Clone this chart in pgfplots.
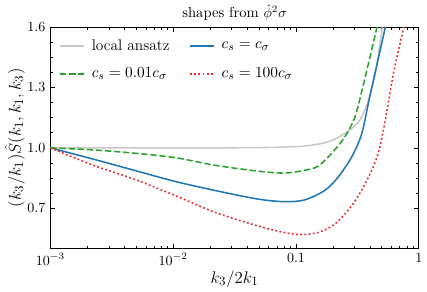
\documentclass[border=0pt]{standalone}
\usepackage{pgfplots}
\pgfplotsset{compat=1.18}
\definecolor{mblue}{HTML}{1F77B4}
\definecolor{mgreen}{HTML}{2CA02C}
\definecolor{mred}{RGB}{238,40,40}
\definecolor{mgray}{RGB}{200,200,200}
\begin{document}
\begin{tikzpicture}
\begin{axis}[
  scale only axis,
  width=262.6pt, height=158pt,
  xmode=log,
  xmin=0.001, xmax=1,
  ymin=0.5, ymax=1.6,
  xtick={0.001,0.01,0.1,1},
  xticklabels={$10^{-3}$,$10^{-2}$,$0.1$,$1$},
  ytick={0.7,1.0,1.3,1.6},
  yticklabels={$0.7$,$1.0$,$1.3$,$1.6$},
  minor y tick num=3,
  tick align=inside,
  xtick pos=both, ytick pos=both,
  major tick length=3.5pt,
  minor tick length=2pt,
  every tick/.style={black, line width=0.5pt},
  axis line style={line width=0.6pt},
  xlabel={\fontsize{13}{15}\selectfont $k_3/2k_1$},
  ylabel={\fontsize{13}{15}\selectfont $(k_3/k_1)\hat{S}(k_1,k_1,k_3)$},
  xlabel style={yshift=3pt},
  ylabel style={yshift=-5pt},
  title={\fontsize{10.4}{12}\selectfont shapes from $\dot{\phi}^2\sigma$},
  title style={yshift=-5pt},
  legend columns=2,
  legend cell align=left,
  legend style={at={(0.012,0.97)}, anchor=north west, draw=none, fill=none,
    /tikz/every odd column/.append style={column sep=3pt},
    /tikz/every even column/.append style={column sep=12pt},
    row sep=7pt, font=\fontsize{11}{13}\selectfont},
]
\addplot[mgray, line width=1.1pt, smooth] coordinates {
(0.001,1.0) (0.003,1.0) (0.01,1.0) (0.03,1.0005) (0.06,1.002) (0.0801,1.004)
(0.1172,1.009) (0.1712,1.025) (0.2203,1.0515) (0.2842,1.0965) (0.3327,1.14)
(0.3776,1.2135) (0.44,1.36) (0.505,1.6)
};
\addlegendentry{local ansatz}
\addplot[mblue, line width=1.1pt, smooth] coordinates {
(0.001,1.0) (0.002207,0.945) (0.00486,0.888) (0.0103,0.834) (0.02193,0.7885)
(0.04829,0.7465) (0.08,0.733) (0.1172,0.7415) (0.1712,0.7885) (0.2203,0.855)
(0.2842,0.955) (0.3436,1.0715) (0.4018,1.2635) (0.5346,1.6)
};
\addlegendentry{$c_s = c_\sigma$}
\addplot[mgreen, line width=1.1pt, dash pattern=on 4.5pt off 2pt, smooth] coordinates {
(0.001,1.0) (0.002207,0.99) (0.00486,0.9735) (0.0105,0.951) (0.02193,0.9135)
(0.04829,0.885) (0.0801,0.875) (0.1172,0.8885) (0.1508,0.9085) (0.1944,0.9715)
(0.2503,1.055) (0.3026,1.155) (0.354,1.3135) (0.4571,1.6)
};
\addlegendentry{$c_s = 0.01c_\sigma$}
\addplot[mred, line width=1.1pt, dash pattern=on 1.3pt off 1.7pt, smooth] coordinates {
(0.001,1.0) (0.002207,0.915) (0.00486,0.8435) (0.01072,0.76) (0.02193,0.68)
(0.04829,0.6135) (0.0801,0.58) (0.11,0.57) (0.1508,0.58) (0.207,0.6215)
(0.2842,0.713) (0.3658,0.8215) (0.4571,0.955) (0.5177,1.095) (0.6266,1.38) (0.7568,1.6)
};
\addlegendentry{$c_s = 100c_\sigma$}
\end{axis}
\end{tikzpicture}
\end{document}
